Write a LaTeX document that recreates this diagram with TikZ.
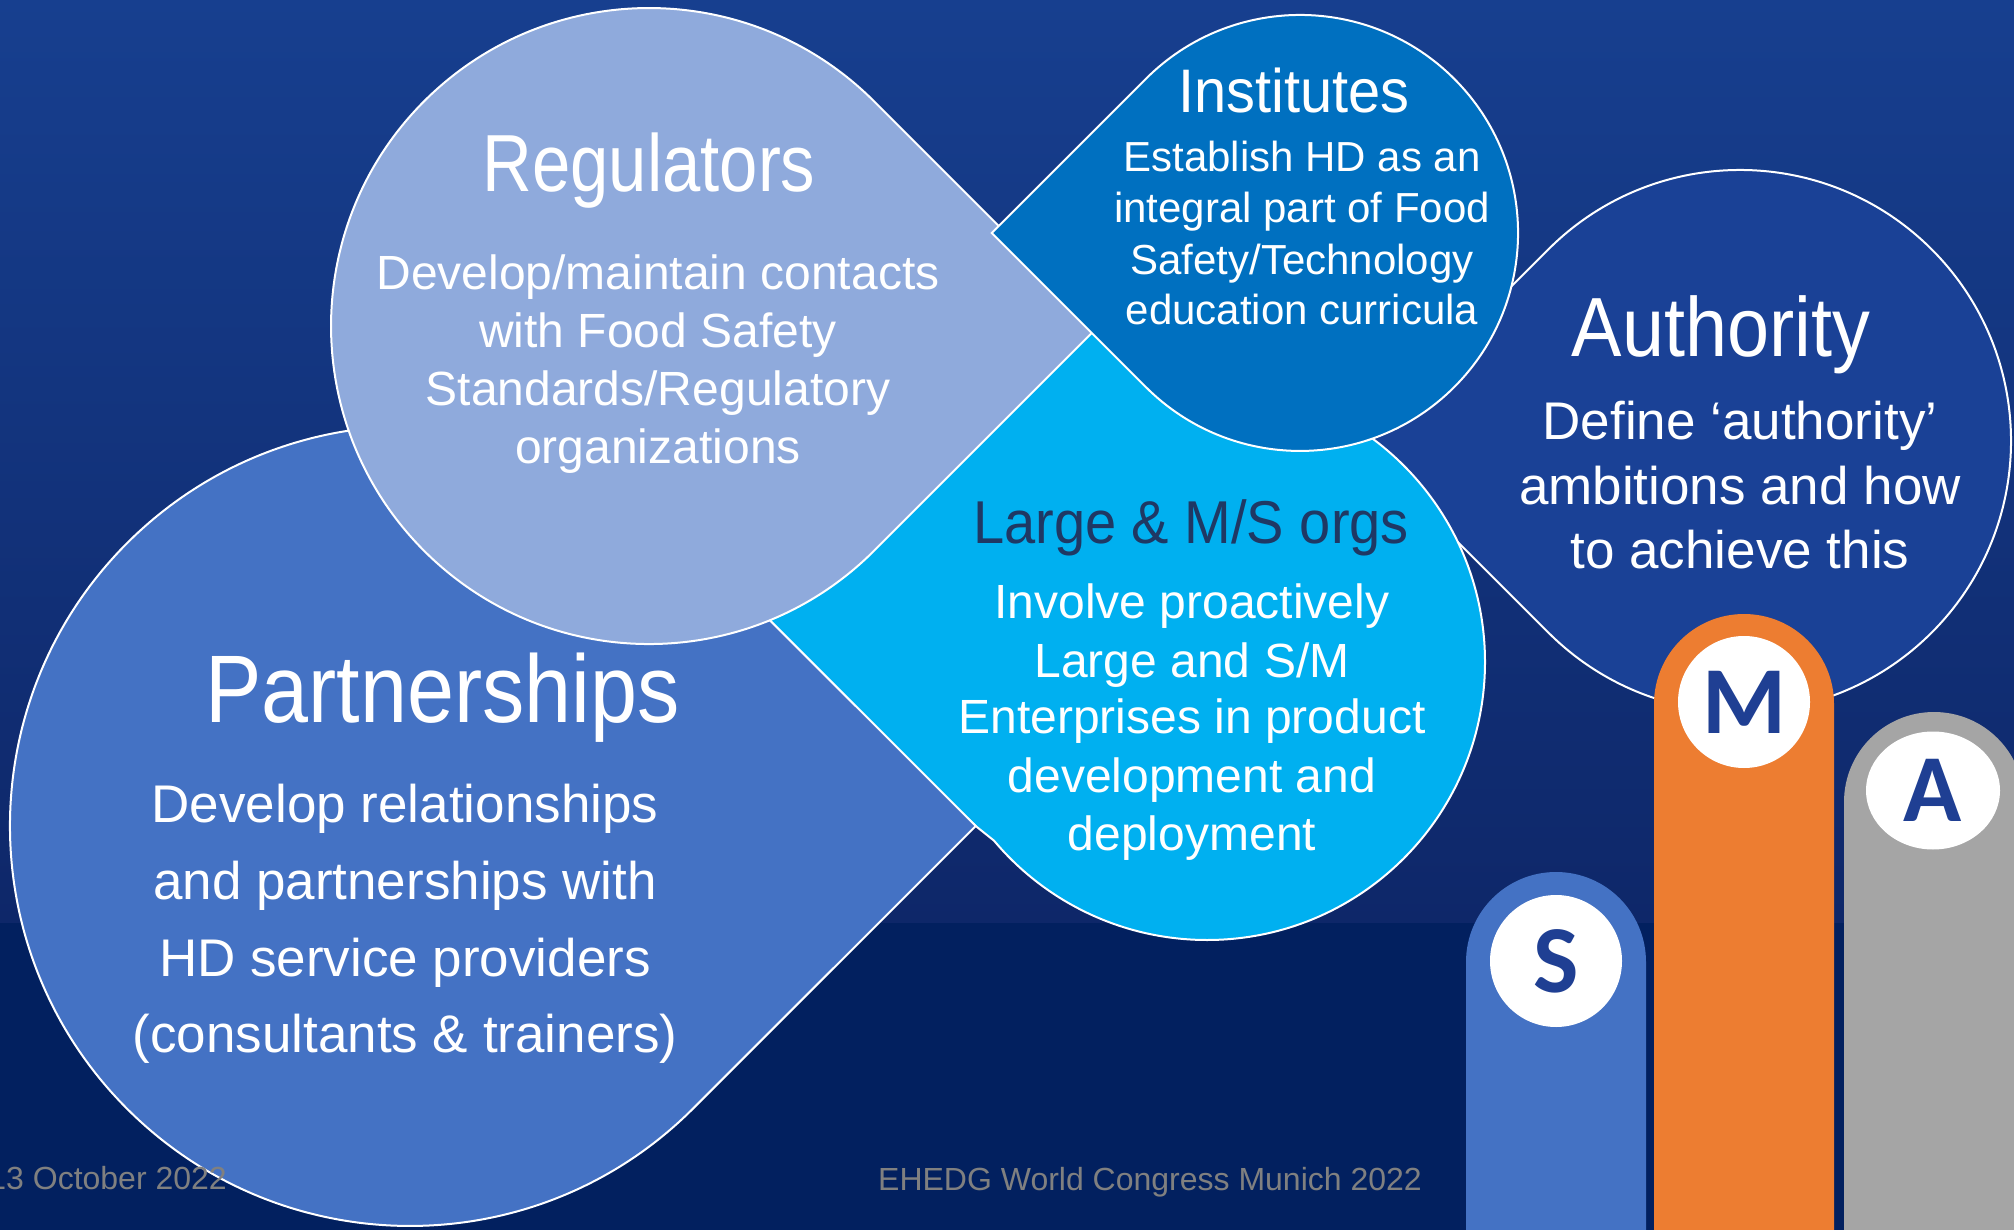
\documentclass[tikz,border=0pt]{standalone}
\usepackage{fontspec}
\usepackage{graphicx}
\setmainfont{Liberation Sans}
\newfontfamily\titlefont{Liberation Sans}
\newfontfamily\letterfont{Carlito}
\usetikzlibrary{shapes.geometric}
\definecolor{bgtop}{HTML}{173F8F}
\definecolor{bgmid}{HTML}{0E2769}
\definecolor{bglow}{HTML}{02205F}
\definecolor{partcol}{HTML}{4472C4}
\definecolor{regcol}{HTML}{8FAADC}
\definecolor{largecol}{HTML}{00B0F0}
\definecolor{instcol}{HTML}{0070C0}
\definecolor{authcol}{HTML}{1A4196}
\definecolor{orgtext}{HTML}{1F3864}
\definecolor{barorange}{HTML}{ED7D31}
\definecolor{bargray}{HTML}{A5A5A5}
\definecolor{letterblue}{HTML}{1F3F93}
\definecolor{footgray}{HTML}{808080}
\tikzset{
  blob/.style={draw=white, line width=2pt, line join=miter},
  bodytext/.style={text=white, inner sep=0pt, anchor=base},
  regtext/.style={bodytext, font=\fontsize{48}{58}\selectfont},
  insttext/.style={bodytext, font=\fontsize{42}{51}\selectfont},
  authtext/.style={bodytext, font=\fontsize{53}{64}\selectfont},
  largetext/.style={bodytext, font=\fontsize{48}{58}\selectfont},
  parttext/.style={bodytext, font=\fontsize{53}{77}\selectfont},
  ttl/.style={inner sep=0pt, anchor=base, text=white},
  foot/.style={text=footgray, font=\fontsize{32}{38}\selectfont, inner sep=0pt},
  badge/.style={circle, fill=white, minimum size=132pt, inner sep=0pt,
    text=letterblue, font=\letterfont\bfseries\fontsize{96}{100}\selectfont},
  badgeflat/.style={ellipse, fill=white, minimum width=134pt, minimum height=118pt, inner sep=0pt,
    text=letterblue, font=\letterfont\bfseries\fontsize{96}{100}\selectfont}
}
\begin{document}
\begin{tikzpicture}[x=1pt, y=-1pt]
\useasboundingbox (0,0) rectangle (2014,1230);
\clip (0,0) rectangle (2014,1230);
% background
\shade[top color=bgtop, bottom color=bgmid] (0,0) rectangle (2014,923);
\fill[bglow] (0,923) rectangle (2014,1230);

% Authority
\path[blob, fill=authcol] (1548.4,249.4) -- (1356.7,441) -- (1548.4,632.6)
  arc[start angle=135, end angle=-135, radius=271] -- cycle;
% Large & M/S orgs
\path[blob, fill=largecol] (1207,384) arc[start angle=-90, end angle=140, radius=278]
  -- (975.7,826) -- (760,620) -- (760,560) -- (930,420) -- (1060,340)
  -- (1070,300) -- (1160,300) -- cycle;
% Partnerships
\path[blob, fill=partcol] (692.8,543.2) -- (975.7,826) -- (692.8,1108.8)
  arc[start angle=45, end angle=315, radius=400] -- cycle;
% Regulators
\path[blob, fill=regcol] (873.9,101.1) -- (1098.7,326) -- (873.9,550.9)
  arc[start angle=45, end angle=315, radius=318] -- cycle;
% Institutes
\path[blob, fill=instcol] (1145.9,78.9) -- (991.7,233) -- (1145.9,387.1)
  arc[start angle=135, end angle=-135, radius=218] -- cycle;

% Regulators text
\node[ttl, font=\titlefont\fontsize{81}{90}\selectfont] (regT) at (649,191.5) {\scalebox{0.85}[1]{Regulators}};
\node[regtext] (reg1) at (658,290) {Develop/maintain contacts};
\node[regtext] (reg2) at (658,348) {with Food Safety};
\node[regtext] (reg3) at (658,406) {Standards/Regulatory};
\node[regtext] (reg4) at (658,464) {organizations};

% Institutes text
\node[ttl, font=\titlefont\fontsize{61.5}{70}\selectfont] (instT) at (1294,113) {\scalebox{0.94}[1]{Institutes}};
\node[insttext] (inst1) at (1302,172) {Establish HD as an};
\node[insttext] (inst2) at (1302,223) {integral part of Food};
\node[insttext] (inst3) at (1302,275) {Safety/Technology};
\node[insttext] (inst4) at (1302,325) {education curricula};

% Authority text
\node[ttl, font=\titlefont\fontsize{84}{92}\selectfont] (authT) at (1721,356.5) {\scalebox{0.9}[1]{Authority}};
\node[authtext] (auth1) at (1740,440) {Define ‘authority’};
\node[authtext] (auth2) at (1740,504) {ambitions and how};
\node[authtext] (auth3) at (1740,568) {to achieve this};

% Large text
\node[ttl, text=orgtext, font=\titlefont\fontsize{60.5}{68}\selectfont] (largeT) at (1191,543) {\scalebox{0.926}[1]{Large \& M/S orgs}};
\node[largetext] (large1) at (1192,618) {Involve proactively};
\node[largetext] (large2) at (1192,677) {Large and S/M};
\node[largetext] (large3) at (1192,733) {Enterprises in product};
\node[largetext] (large4) at (1192,792) {development and};
\node[largetext] (large5) at (1192,850) {deployment};

% Partnerships text
\node[ttl, font=\titlefont\fontsize{96}{104}\selectfont] (partT) at (442.5,722.7) {\scalebox{0.88}[1]{Partnerships}};
\node[parttext] (part1) at (405,822) {Develop relationships};
\node[parttext] (part2) at (405,899) {and partnerships with};
\node[parttext] (part3) at (405,976) {HD service providers};
\node[parttext] (part4) at (405,1052) {(consultants \& trainers)};

% footer
\node[foot, anchor=base east] (date) at (227,1189) {13 October 2022};
\node[foot, anchor=base] (congress) at (1150,1190) {EHEDG World Congress Munich 2022};

% bars
\path[fill=partcol] (1466,1240) -- (1466,962) arc[start angle=180, end angle=360, radius=90] -- (1646,1240) -- cycle;
\path[fill=barorange] (1654,1240) -- (1654,704) arc[start angle=180, end angle=360, radius=90] -- (1834,1240) -- cycle;
\path[fill=bargray] (1844,1240) -- (1844,802) arc[start angle=180, end angle=360, radius=90] -- (2024,1240) -- cycle;
\node[badge] (sBadge) at (1556,961) {S};
\node[badge] (mBadge) at (1744,702) {M};
\node[badgeflat] (aBadge) at (1933,790.5) {A};
\end{tikzpicture}
\end{document}
